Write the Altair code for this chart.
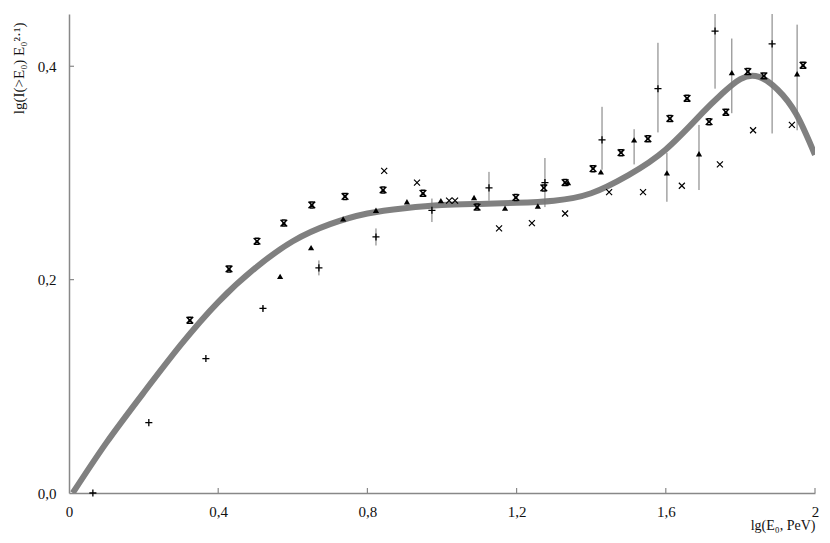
import altair as alt
import pandas as pd

# ---- data ----
curve_x = [0.01, 0.10, 0.20, 0.30, 0.40, 0.50, 0.60, 0.70, 0.80, 0.90, 1.00, 1.10, 1.20, 1.30, 1.40, 1.50, 1.60, 1.70, 1.75, 1.80, 1.85, 1.90, 1.95, 2.00]
curve_y = [0.000, 0.047, 0.094, 0.139, 0.179, 0.211, 0.236, 0.252, 0.262, 0.267, 0.270, 0.271, 0.272, 0.274, 0.281, 0.298, 0.322, 0.357, 0.374, 0.388, 0.390, 0.378, 0.355, 0.317]

plus_x = [0.064, 0.214, 0.367, 0.520, 0.670, 0.823, 0.973, 1.126, 1.276, 1.429, 1.579, 1.732, 1.885]
plus_y = [0.000, 0.066, 0.126, 0.173, 0.211, 0.240, 0.265, 0.286, 0.291, 0.331, 0.379, 0.433, 0.421]
plus_lo = [0.000, 0.066, 0.126, 0.171, 0.204, 0.232, 0.254, 0.274, 0.268, 0.303, 0.338, 0.379, 0.337]
plus_hi = [0.000, 0.066, 0.126, 0.175, 0.218, 0.248, 0.276, 0.301, 0.314, 0.362, 0.422, 0.470, 0.470]

tri_x = [0.566, 0.649, 0.735, 0.823, 0.906, 0.997, 1.086, 1.169, 1.257, 1.338, 1.426, 1.515, 1.603, 1.689, 1.777, 1.952]
tri_y = [0.203, 0.230, 0.257, 0.265, 0.273, 0.274, 0.277, 0.267, 0.269, 0.291, 0.301, 0.331, 0.300, 0.318, 0.394, 0.393]
tri_lo = [0.203, 0.230, 0.257, 0.265, 0.273, 0.274, 0.277, 0.267, 0.269, 0.291, 0.301, 0.308, 0.273, 0.284, 0.356, 0.340]
tri_hi = [0.203, 0.230, 0.257, 0.265, 0.273, 0.274, 0.277, 0.267, 0.269, 0.291, 0.301, 0.341, 0.319, 0.345, 0.426, 0.439]

star_x = [0.324, 0.429, 0.504, 0.576, 0.651, 0.740, 0.842, 0.949, 1.094, 1.198, 1.273, 1.330, 1.405, 1.480, 1.552, 1.611, 1.657, 1.716, 1.761, 1.820, 1.863, 1.968]
star_y = [0.162, 0.210, 0.236, 0.253, 0.270, 0.278, 0.284, 0.281, 0.268, 0.277, 0.286, 0.291, 0.304, 0.319, 0.332, 0.351, 0.370, 0.348, 0.357, 0.395, 0.391, 0.401]

cross_x = [0.845, 0.933, 1.019, 1.035, 1.153, 1.241, 1.330, 1.448, 1.539, 1.643, 1.745, 1.834, 1.938]
cross_y = [0.302, 0.291, 0.274, 0.274, 0.248, 0.253, 0.262, 0.282, 0.282, 0.288, 0.308, 0.340, 0.345]

x_ticks = [0.4, 0.8, 1.2, 1.6, 2.0]
y_ticks = [0.2, 0.4]

curve = pd.DataFrame({"x": curve_x, "y": curve_y})
plus = pd.DataFrame({"x": plus_x, "y": plus_y, "lo": plus_lo, "hi": plus_hi})
tri = pd.DataFrame({"x": tri_x, "y": tri_y, "lo": tri_lo, "hi": tri_hi})
star = pd.DataFrame({"x": star_x, "y": star_y})
cross = pd.DataFrame({"x": cross_x, "y": cross_y})
xt = pd.DataFrame({"x": x_ticks})
yt = pd.DataFrame({"y": y_ticks})

FONT = "Liberation Serif"
W, H = 746, 479

xscale = alt.Scale(domain=[0, 2], nice=False, zero=False)
yscale = alt.Scale(domain=[0, 0.449], nice=False, zero=False)

xaxis = alt.Axis(
    values=[0, 0.4, 0.8, 1.2, 1.6, 2.0],
    labelExpr="replace(format(datum.value, '~g'), '.', ',')",
    labelFlush=False, labelOverlap=False,
    ticks=False, grid=False, domainColor="#888888", domainWidth=1.5,
    labelFont=FONT, labelFontSize=15, labelColor="#111111", labelPadding=11,
    title="lg(E₀, PeV)", titleFont=FONT, titleFontSize=14, titleFontWeight="normal",
    titleColor="#111111", titleAnchor="end", titleAlign="right", titleBaseline="middle",
    titleX=W, titleY=32,
)
yaxis = alt.Axis(
    values=[0, 0.2, 0.4],
    labelExpr="replace(format(datum.value, '.1f'), '.', ',')",
    labelFlush=False, labelOverlap=False,
    ticks=False, grid=False, domainColor="#888888", domainWidth=1.5,
    labelFont=FONT, labelFontSize=15, labelColor="#111111", labelPadding=13,
    title="lg(I(>E₀) E₀²·¹)", titleFont=FONT, titleFontSize=15, titleFontWeight="normal",
    titleColor="#111111", titleAngle=-90, titleAlign="right", titleBaseline="middle",
    titleAnchor="end", titleX=-51, titleY=8,
)

base_x = alt.X("x:Q", scale=xscale, axis=xaxis)
base_y = alt.Y("y:Q", scale=yscale, axis=yaxis)

line = alt.Chart(curve).mark_line(
    color="#808080", strokeWidth=6, interpolate="natural", clip=True
).encode(x=base_x, y=base_y)

plus_err = alt.Chart(plus).mark_rule(color="#777777", strokeWidth=1, clip=True).encode(
    x=alt.X("x:Q", scale=xscale), y=alt.Y("lo:Q", scale=yscale), y2="hi:Q"
)
tri_err = alt.Chart(tri).mark_rule(color="#777777", strokeWidth=1, clip=True).encode(
    x=alt.X("x:Q", scale=xscale), y=alt.Y("lo:Q", scale=yscale), y2="hi:Q"
)

PLUS_PATH = "M-1,0L1,0M0,-1L0,1"
CROSS_PATH = "M-1,-1L1,1M-1,1L1,-1"
STAR_PATH = "M-1,-1L1,1M-1,1L1,-1M-0.6,-0.9L0.6,-0.9M-0.6,0.9L0.6,0.9M-0.5,0L0.5,0"

plus_pts = alt.Chart(plus).mark_point(
    shape=PLUS_PATH, filled=False, stroke="black", strokeWidth=1.3, size=50, opacity=1
).encode(x=alt.X("x:Q", scale=xscale), y=alt.Y("y:Q", scale=yscale))

tri_pts = alt.Chart(tri).mark_point(
    shape="triangle-up", filled=True, color="black", size=38, opacity=1
).encode(x=alt.X("x:Q", scale=xscale), y=alt.Y("y:Q", scale=yscale))

star_pts = alt.Chart(star).mark_point(
    shape=STAR_PATH, filled=False, stroke="black", strokeWidth=1.5, size=44, opacity=1
).encode(x=alt.X("x:Q", scale=xscale), y=alt.Y("y:Q", scale=yscale))

cross_pts = alt.Chart(cross).mark_point(
    shape=CROSS_PATH, filled=False, stroke="black", strokeWidth=1.2, size=36, opacity=1
).encode(x=alt.X("x:Q", scale=xscale), y=alt.Y("y:Q", scale=yscale))

xtick_marks = alt.Chart(xt).mark_rule(color="#888888", strokeWidth=1.2).encode(
    x=alt.X("x:Q", scale=xscale), y=alt.value(H), y2=alt.value(H - 5)
)
ytick_marks = alt.Chart(yt).mark_rule(color="#888888", strokeWidth=1.2).encode(
    y=alt.Y("y:Q", scale=yscale), x=alt.value(0), x2=alt.value(5)
)

chart = alt.layer(
    line, plus_err, tri_err, xtick_marks, ytick_marks,
    cross_pts, star_pts, plus_pts, tri_pts
).properties(
    width=W, height=H,
    autosize=alt.AutoSizeParams(type="none"),
    padding={"left": 61, "top": 6, "right": 5, "bottom": 42},
    background="white",
).configure_view(stroke=None)

chart.save("out.html", embed_options={"renderer": "svg", "actions": False})
